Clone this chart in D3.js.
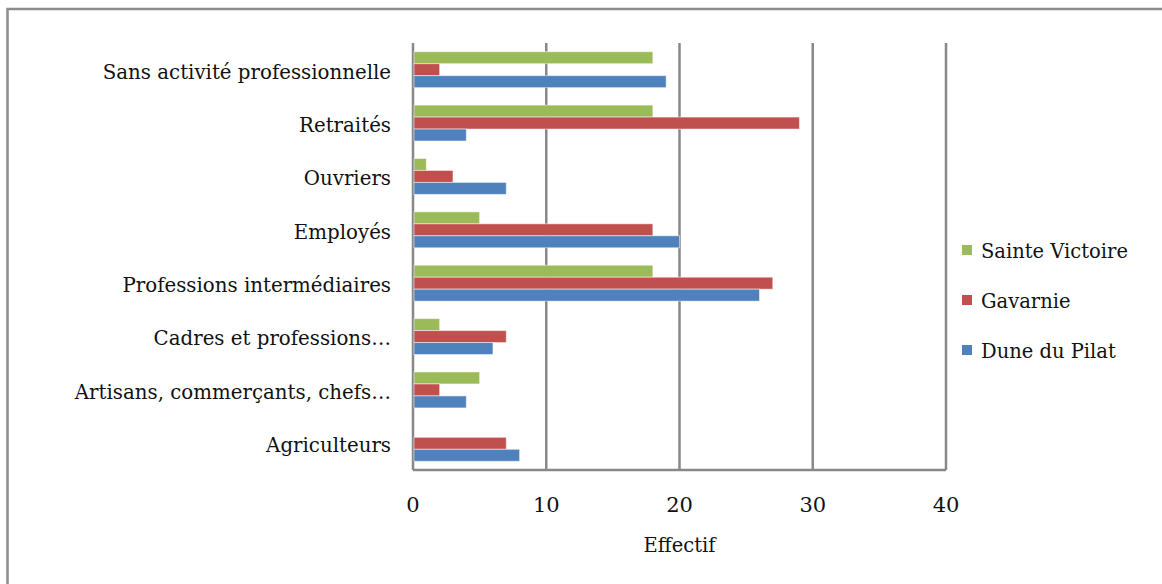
<!DOCTYPE html>
<html><head><meta charset="utf-8">
<script src="https://cdn.jsdelivr.net/npm/d3@7"></script>
<style>body{margin:0;background:#fff}svg{display:block}</style>
</head><body>
<svg id="c" width="1162" height="584"></svg>
<script>
const categories = ["Sans activité professionnelle","Retraités","Ouvriers","Employés","Professions intermédiaires","Cadres et professions…","Artisans, commerçants, chefs…","Agriculteurs"];
const seriesNames = ["Sainte Victoire","Gavarnie","Dune du Pilat"];
const sainteVictoire = [18,18,1,5,18,2,5,0];
const gavarnie = [2,29,3,18,27,7,2,7];
const duneDuPilat = [19,4,7,20,26,6,4,8];
const colors = ["#9BBB59","#C0504D","#4F81BD"];
const xTicks = [0,10,20,30,40];

const seriesValues = [sainteVictoire, gavarnie, duneDuPilat];
const font = "'DejaVu Serif', serif";
const svg = d3.select("#c");
const L = 413, R = 946, T = 43, B = 470;

svg.append("rect").attr("x",7.5).attr("y",9).attr("width",1170).attr("height",600)
  .attr("fill","none").attr("stroke","#8c8c8c").attr("stroke-width",2.5);

const x = d3.scaleLinear().domain([0,40]).range([L,R]);
const y = d3.scaleBand().domain(categories).range([T,B]).paddingInner(0.327).paddingOuter(0.1635);
const ys = d3.scaleBand().domain(seriesNames).range([0,y.bandwidth()]);

// gridlines
svg.append("g").selectAll("line").data(xTicks).join("line")
  .attr("x1",d=>x(d)).attr("x2",d=>x(d)).attr("y1",T).attr("y2",B)
  .attr("stroke","#888").attr("stroke-width",2.5);
svg.append("line").attr("x1",L).attr("x2",R).attr("y1",B).attr("y2",B)
  .attr("stroke","#888").attr("stroke-width",2.5);

// bars
seriesNames.forEach((s,si)=>{
  svg.append("g").selectAll("rect").data(categories).join("rect")
    .attr("x",x(0)+1)
    .attr("y",(c)=>y(c)+ys(s))
    .attr("width",(c,i)=>Math.max(0,x(seriesValues[si][i])-x(0)-1))
    .attr("height",ys.bandwidth())
    .attr("fill",colors[si])
    .attr("stroke",(c,i)=>seriesValues[si][i]>0?"rgba(255,255,255,0.5)":"none").attr("stroke-width",1);
});

// category labels
svg.append("g").selectAll("text").data(categories).join("text")
  .attr("x",391).attr("y",c=>y(c)+y.bandwidth()/2+2)
  .attr("dy","0.35em").attr("text-anchor","end")
  .attr("font-family",font).attr("font-size",19.8).attr("fill","#111")
  .text(d=>d);

// x tick labels
svg.append("g").selectAll("text").data(xTicks).join("text")
  .attr("x",d=>x(d)).attr("y",505).attr("dy","0.35em").attr("text-anchor","middle")
  .attr("font-family",font).attr("font-size",21).attr("fill","#111").text(d=>d);

svg.append("text").attr("x",x(20)).attr("y",545).attr("dy","0.35em").attr("text-anchor","middle")
  .attr("font-family",font).attr("font-size",19.5).attr("fill","#111").text("Effectif");

// legend
const lg = svg.append("g");
seriesNames.forEach((s,i)=>{
  const cy = 250 + i*50;
  lg.append("rect").attr("x",962).attr("y",cy-5).attr("width",10).attr("height",10).attr("fill",colors[i]);
  lg.append("text").attr("x",981).attr("y",cy+1).attr("dy","0.35em")
    .attr("font-family",font).attr("font-size",19.5).attr("fill","#111").text(s);
});
</script>
</body></html>
